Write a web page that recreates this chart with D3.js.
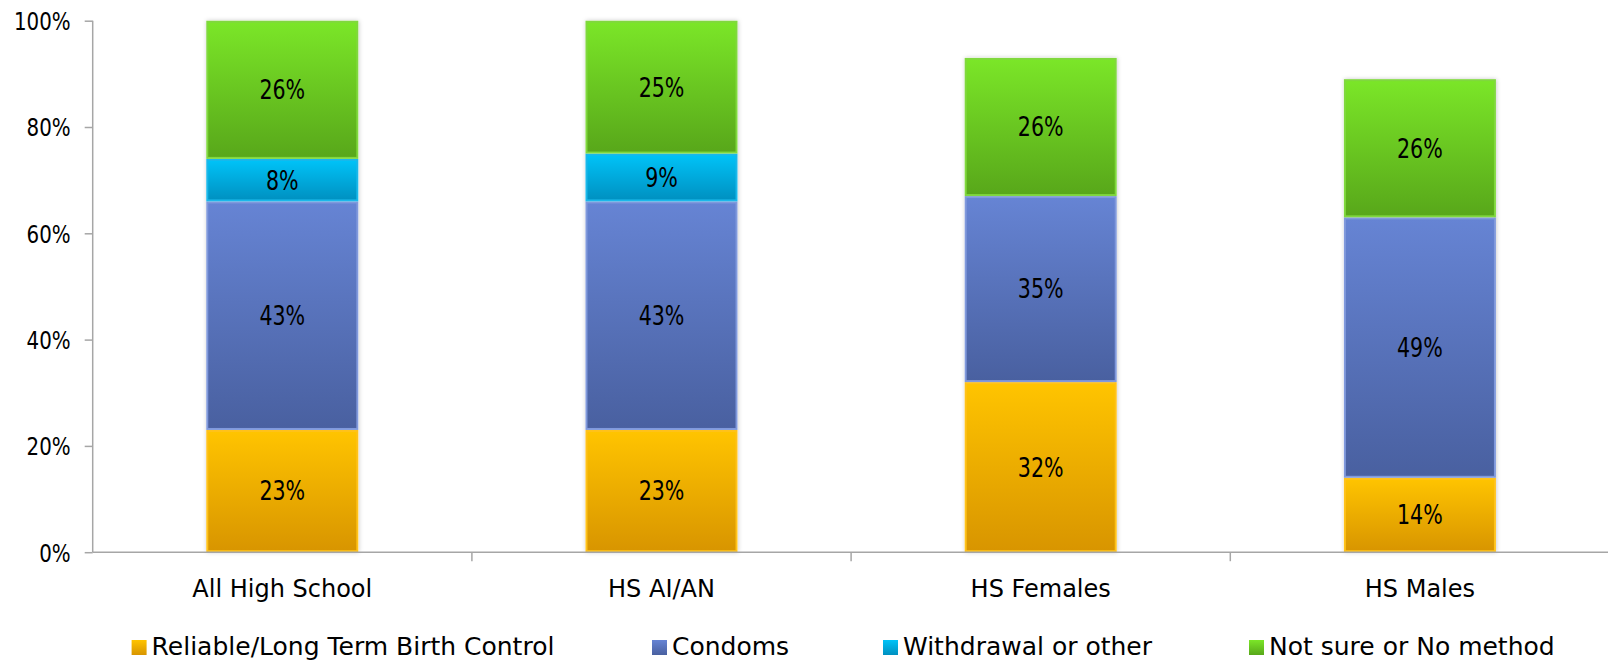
<!DOCTYPE html>
<html>
<head>
<meta charset="utf-8">
<script src="https://cdn.jsdelivr.net/npm/d3@7"></script>
<style>
  html, body { margin: 0; padding: 0; background: #fff; }
  svg { display: block; }
  text { font-family: "DejaVu Sans Condensed", "DejaVu Sans", sans-serif; fill: #000; }
  .wide { font-family: "DejaVu Sans", sans-serif; }
</style>
</head>
<body>
<svg id="chart" width="1608" height="661"></svg>
<script>
// Groups shown along the x axis
const categories = ["All High School", "HS AI/AN", "HS Females", "HS Males"];

// Share of students per method, stacked bottom to top (percent)
const reliable   = [23, 23, 32, 14];
const condoms    = [43, 43, 35, 49];
const withdrawal = [8, 9, 0, 0];
const notSure    = [26, 25, 26, 26];

const seriesNames = ["Reliable/Long Term Birth Control", "Condoms", "Withdrawal or other", "Not sure or No method"];
const yTicks = [0, 20, 40, 60, 80, 100];

// Colour ramps per series: [top, bottom, border]
const palette = [
  ["#ffc400", "#d89500", "#ffc21a"],
  ["#6684d4", "#4960a0", "#8099dc"],
  ["#00c3f8", "#0090c0", "#1ab8ea"],
  ["#7be628", "#58a71a", "#80d83e"]
];

const W = 1608, H = 661;
const plot = { left: 92.7, right: 1609.5, top: 20.7, bottom: 552.2 };

const svg = d3.select("#chart");
const defs = svg.append("defs");

palette.forEach((c, i) => {
  const g = defs.append("linearGradient")
    .attr("id", "grad" + i).attr("x1", 0).attr("y1", 0).attr("x2", 0).attr("y2", 1);
  g.append("stop").attr("offset", "0%").attr("stop-color", c[0]);
  g.append("stop").attr("offset", "100%").attr("stop-color", c[1]);
});

const shadow = defs.append("filter").attr("id", "shadow")
  .attr("x", "-10%").attr("y", "-5%").attr("width", "120%").attr("height", "110%");
shadow.append("feDropShadow").attr("dx", 0.5).attr("dy", 0).attr("stdDeviation", 2.2)
  .attr("flood-color", "#000").attr("flood-opacity", 0.22);

const table = categories.map((c, i) => ({
  category: c,
  s0: reliable[i], s1: condoms[i], s2: withdrawal[i], s3: notSure[i]
}));
const keys = ["s0", "s1", "s2", "s3"];
const stacked = d3.stack().keys(keys)(table);

const x = d3.scaleBand().domain(categories).range([plot.left, plot.right]).padding(0);
const y = d3.scaleLinear().domain([0, 100]).range([plot.bottom, plot.top]);
const barW = x.bandwidth() * 0.401;

// Bars
const barsG = svg.append("g");
categories.forEach((c, ci) => {
  const cx = x(c) + x.bandwidth() / 2;
  const total = keys.reduce((s, k) => s + table[ci][k], 0);
  // soft shadow behind the whole column
  barsG.append("rect")
    .attr("x", cx - barW / 2).attr("y", y(total))
    .attr("width", barW).attr("height", y(0) - y(total))
    .attr("fill", "#fff").attr("filter", "url(#shadow)");
});

stacked.forEach((layer, si) => {
  const g = barsG.append("g");
  layer.forEach((d, ci) => {
    if (d[1] - d[0] <= 0) return;
    const cx = x(categories[ci]) + x.bandwidth() / 2;
    g.append("rect")
      .attr("x", cx - barW / 2 + 1)
      .attr("y", y(d[1]) + 1)
      .attr("width", barW - 2)
      .attr("height", y(d[0]) - y(d[1]) - 2)
      .attr("fill", `url(#grad${si})`)
      .attr("stroke", palette[si][2])
      .attr("stroke-width", 2);
  });
});

// Value labels
stacked.forEach((layer, si) => {
  layer.forEach((d, ci) => {
    const v = d[1] - d[0];
    if (v <= 0) return;
    const cx = x(categories[ci]) + x.bandwidth() / 2;
    svg.append("text")
      .attr("transform", `translate(${cx},${(y(d[0]) + y(d[1])) / 2}) scale(0.88,1)`)
      .attr("text-anchor", "middle")
      .attr("dy", "0.36em")
      .style("font-size", "26px")
      .text(v + "%");
  });
});

// Y axis
const yAxis = svg.append("g")
  .attr("transform", `translate(${plot.left},0)`)
  .call(d3.axisLeft(y).tickValues(yTicks).tickSize(8).tickPadding(6).tickFormat(d => d + "%"));
yAxis.select(".domain").attr("stroke", "#a6a6a6").attr("stroke-width", 1.5).attr("d", `M0,${plot.top}V${plot.bottom}`);
yAxis.selectAll(".tick line").attr("stroke", "#a6a6a6").attr("stroke-width", 1.5);
yAxis.selectAll(".tick text")
  .style("font-size", "24.5px")
  .attr("font-family", null)
  .attr("x", null)
  .attr("transform", "translate(-22,0) scale(0.9,1)")
  .attr("dy", "0.36em");

// X axis: line with ticks on band boundaries, labels at band centres
const xg = svg.append("g");
xg.append("line")
  .attr("x1", plot.left).attr("x2", W)
  .attr("y1", plot.bottom).attr("y2", plot.bottom)
  .attr("stroke", "#a6a6a6").attr("stroke-width", 1.5);
categories.forEach((c, i) => {
  if (i > 0) {
    xg.append("line")
      .attr("x1", x(c)).attr("x2", x(c))
      .attr("y1", plot.bottom).attr("y2", plot.bottom + 9)
      .attr("stroke", "#a6a6a6").attr("stroke-width", 1.5);
  }
  xg.append("text")
    .attr("class", "wide")
    .attr("x", x(c) + x.bandwidth() / 2)
    .attr("y", 597)
    .attr("text-anchor", "middle")
    .style("font-size", "24px")
    .text(c);
});

// Legend
const legendX = [131.6, 652, 883, 1249];
const legend = svg.append("g");
seriesNames.forEach((name, i) => {
  const g = legend.append("g").attr("transform", `translate(${legendX[i]},640)`);
  g.append("rect").attr("width", 15).attr("height", 15).attr("fill", `url(#grad${i})`);
  g.append("text").attr("class", "wide").attr("x", 20).attr("y", 15).style("font-size", "25px").text(name);
});
</script>
</body>
</html>
